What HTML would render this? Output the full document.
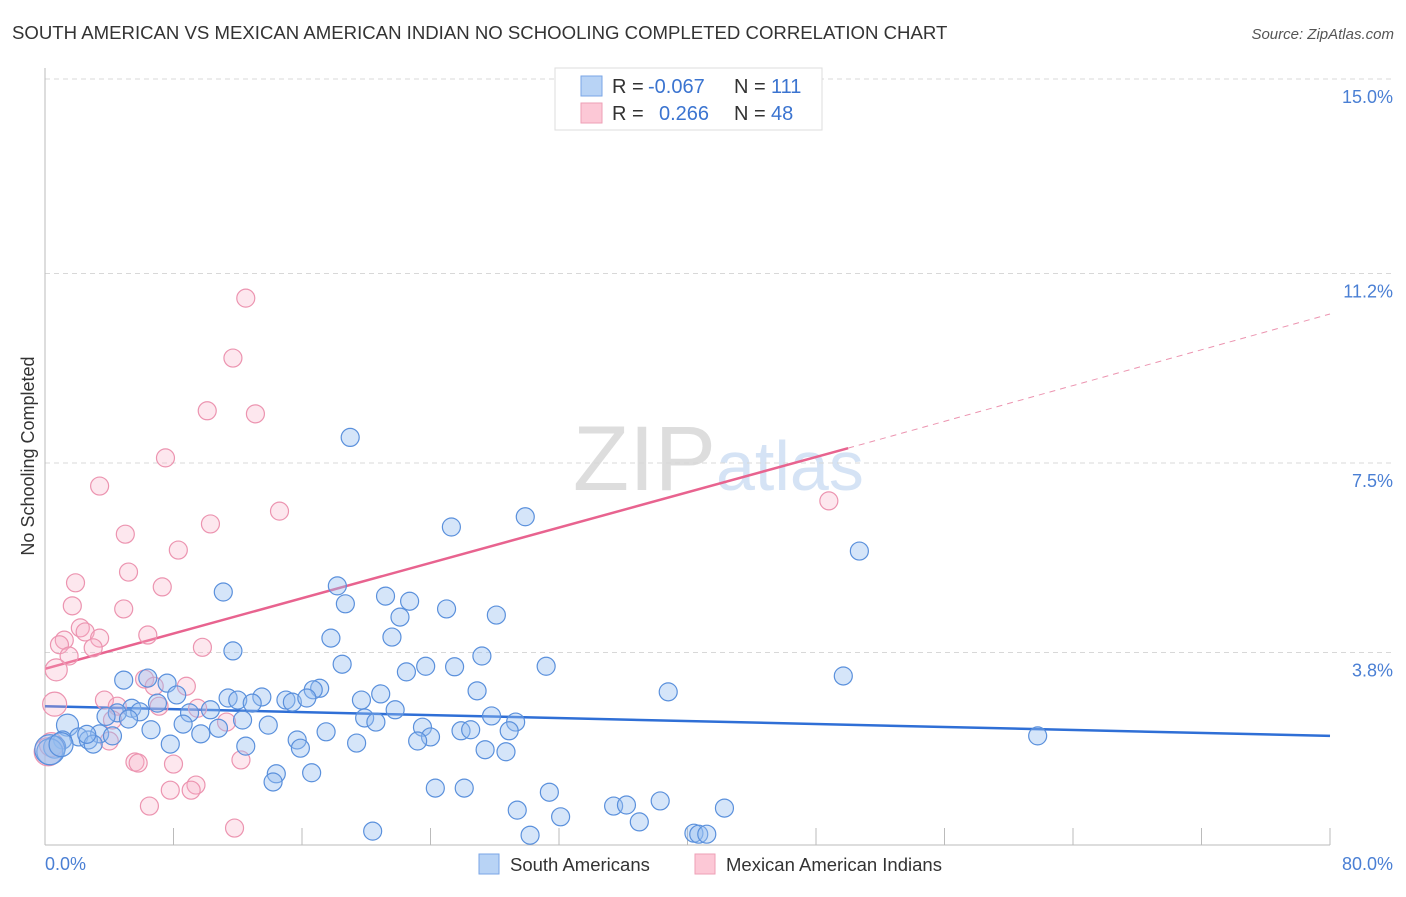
<!DOCTYPE html>
<html><head><meta charset="utf-8"><style>
body{margin:0;background:#fff;font-family:"Liberation Sans",sans-serif;}
svg text{font-family:"Liberation Sans",sans-serif;}
</style></head><body>
<svg id="chart" width="1406" height="892">
<text x="12" y="39" font-size="18.6" fill="#333">SOUTH AMERICAN VS MEXICAN AMERICAN INDIAN NO SCHOOLING COMPLETED CORRELATION CHART</text>
<text x="1394" y="39" font-size="15" fill="#555" font-style="italic" text-anchor="end">Source: ZipAtlas.com</text>
<text x="716" y="490" font-size="92" fill="#ddd" text-anchor="end" font-family="Liberation Serif">ZIP</text>
<text x="716" y="490" font-size="70" fill="#d5e3f5">atlas</text>
<g id="grid"></g>
<g id="axes"></g>
<g id="lines"></g>
<g id="points"></g>
<text transform="translate(34,456) rotate(-90)" font-size="18" fill="#333" text-anchor="middle">No Schooling Completed</text>
<text x="45" y="870" font-size="18" fill="#4a7fd4">0.0%</text>
<text x="1393" y="870" font-size="18" fill="#4a7fd4" text-anchor="end">80.0%</text>
<g>
<rect x="555" y="68" width="267" height="62" fill="#fff" stroke="#ddd"/>
<rect x="581" y="76" width="21" height="20" fill="#b8d3f5" stroke="#7aa6e6"/>
<rect x="581" y="103" width="21" height="20" fill="#fcc8d6" stroke="#ee9fb6"/>
<text x="612" y="93" font-size="20" fill="#333">R = </text><text x="648" y="93" font-size="20" fill="#3b74d0">-0.067</text>
<text x="734" y="93" font-size="20" fill="#333">N = </text><text x="771" y="93" font-size="20" fill="#3b74d0">111</text>
<text x="612" y="120" font-size="20" fill="#333">R = </text><text x="659" y="120" font-size="20" fill="#3b74d0">0.266</text>
<text x="734" y="120" font-size="20" fill="#333">N = </text><text x="771" y="120" font-size="20" fill="#3b74d0">48</text>
</g>
<g>
<rect x="479" y="854" width="20" height="20" fill="#b8d3f5" stroke="#7aa6e6"/>
<text x="510" y="871" font-size="18.5" fill="#333">South Americans</text>
</g>
<g>
<rect x="695" y="854" width="20" height="20" fill="#fcc8d6" stroke="#ee9fb6"/>
<text x="726" y="871" font-size="18.5" fill="#333">Mexican American Indians</text>
</g>
</svg>
<script>
const yTicks=[3.8,7.5,11.2,15.0];
const yTickLabels=["3.8%","7.5%","11.2%","15.0%"];
const blueX=[19.0,25.3,29.9,50.7,11.1,18.2,18.7,21.2,22.7,25.0,28.1,22.1,17.8,21.6,11.7,27.2,18.5,23.7,25.5,31.2,22.5,49.7,4.9,7.6,6.4,17.1,16.7,26.9,38.8,8.2,11.4,12.0,13.5,15.0,15.4,16.3,12.9,19.7,20.9,7.0,5.4,4.5,5.9,9.0,10.3,21.8,27.8,19.9,20.6,29.3,1.4,12.3,13.9,8.6,23.5,6.6,10.8,17.5,25.9,26.5,28.9,24.0,61.8,2.1,3.4,4.2,9.7,1.1,2.7,15.7,23.2,19.4,3.0,7.8,12.5,15.9,27.4,28.7,0.6,0.3,14.4,16.6,14.2,24.3,26.1,31.4,38.3,35.4,36.2,29.4,42.3,32.1,37.0,20.4,30.2,40.4,40.7,41.2,0.3,1.0,5.2,3.8,2.6];
const blueY=[8.0,6.25,6.45,5.78,4.98,5.1,4.75,4.9,4.8,4.65,4.53,4.49,4.08,4.1,3.83,3.73,3.57,3.53,3.52,3.53,3.42,3.34,3.26,3.2,3.3,3.1,3.07,3.05,3.03,2.97,2.91,2.87,2.93,2.87,2.83,2.91,2.81,2.87,2.99,2.81,2.71,2.62,2.64,2.62,2.68,2.68,2.56,2.52,2.44,2.44,2.38,2.48,2.38,2.40,2.34,2.29,2.32,2.25,2.27,2.29,2.27,2.15,2.17,2.15,2.21,2.17,2.21,2.09,2.09,2.09,2.07,2.03,2.01,2.01,1.97,1.93,1.9,1.86,1.95,1.86,1.43,1.45,1.27,1.15,1.15,1.07,0.9,0.8,0.82,0.72,0.76,0.59,0.49,0.31,0.23,0.27,0.25,0.25,1.9,2.0,2.5,2.55,2.2];
const blueR=[9,9,9,9,9,9,9,9,9,9,9,9,9,9,9,9,9,9,9,9,9,9,9,9,9,9,9,9,9,9,9,9,9,9,9,9,9,9,9,9,9,9,9,9,9,9,9,9,9,9,11,9,9,9,9,9,9,9,9,9,9,9,9,9,9,9,9,9,9,9,9,9,9,9,9,9,9,9,11,13,9,9,9,9,9,9,9,9,9,9,9,9,9,9,9,9,9,9,15,12,9,9,9];
const pinkX=[12.5,11.7,10.1,13.1,7.5,3.4,14.6,10.3,5.0,8.3,5.2,1.9,7.3,1.7,4.9,2.2,2.5,6.4,1.2,3.4,3.0,0.9,1.5,9.8,0.7,6.2,6.8,8.8,3.7,0.6,4.5,7.1,9.5,11.3,4.2,4.0,12.2,5.6,5.8,8.0,9.4,7.8,9.1,6.5,11.8,48.8,0.2,0.4];
const pinkY=[10.72,9.55,8.52,8.46,7.6,7.05,6.56,6.31,6.11,5.8,5.37,5.16,5.08,4.71,4.65,4.28,4.2,4.14,4.04,4.08,3.89,3.95,3.73,3.9,3.46,3.28,3.14,3.14,2.87,2.79,2.75,2.75,2.71,2.44,2.48,2.07,1.70,1.66,1.64,1.62,1.21,1.11,1.11,0.8,0.37,6.76,1.86,2.0];
const pinkR=[9,9,9,9,9,9,9,9,9,9,9,9,9,9,9,9,9,9,9,9,9,9,9,9,11,9,9,9,9,12,9,9,9,9,9,9,9,9,9,9,9,9,9,9,9,9,14,12];
const blueTrendX=[0,80];const blueTrendY=[2.75,2.17];
const pinkTrendX=[0,50,80];const pinkTrendY=[3.48,7.79,10.41];
const xTicks=[8,16,24,32,40,48,56,64,72,80];
const NS='http://www.w3.org/2000/svg';
const sx=v=>45+v/80*1285, sy=v=>847-v*51.2;
function mk(tag,attrs,parent){const e=document.createElementNS(NS,tag);for(const k in attrs)e.setAttribute(k,attrs[k]);document.getElementById(parent).appendChild(e);return e;}
yTicks.forEach((t,i)=>{
 const l=mk('line',{x1:45,x2:1393,y1:sy(t),y2:sy(t),stroke:'#d8d8d8','stroke-dasharray':'5,4'},'grid');
 
 
 const tx=mk('text',{x:1393,y:sy(t)+24,'font-size':18,fill:'#4a7fd4','text-anchor':'end'},'grid');
 tx.textContent=yTickLabels[i];
 
 
});
let ax=mk('line',{x1:45,x2:45,y1:68,y2:845,stroke:'#bbb'},'axes');


ax=mk('line',{x1:45,x2:1330,y1:845,y2:845,stroke:'#bbb'},'axes');


xTicks.forEach(t=>{
 const l=mk('line',{x1:sx(t),x2:sx(t),y1:828,y2:845,stroke:'#bbb'},'axes');
 
 
});
function dot(x,y,r,fill,stroke,name){
 const c=mk('circle',{cx:sx(x),cy:sy(y),r:r,fill:fill,stroke:stroke,'stroke-width':1.2},'points');
 
 
}
pinkX.forEach((x,i)=>dot(x,pinkY[i],pinkR[i],'rgba(248,175,198,0.3)','#ec94b0','mexican-american-indian-point'));
blueX.forEach((x,i)=>dot(x,blueY[i],blueR[i],'rgba(150,190,240,0.4)','#5a90dc','south-american-point'));
let ln=mk('line',{x1:sx(blueTrendX[0]),y1:sy(blueTrendY[0]),x2:sx(blueTrendX[1]),y2:sy(blueTrendY[1]),stroke:'#2f6fd6','stroke-width':2.5},'lines');


ln=mk('line',{x1:sx(pinkTrendX[0]),y1:sy(pinkTrendY[0]),x2:sx(pinkTrendX[1]),y2:sy(pinkTrendY[1]),stroke:'#e8638f','stroke-width':2.5},'lines');


ln=mk('line',{x1:sx(pinkTrendX[1]),y1:sy(pinkTrendY[1]),x2:sx(pinkTrendX[2]),y2:sy(pinkTrendY[2]),stroke:'#ec94b0','stroke-width':1,'stroke-dasharray':'6,5'},'lines');


</script>
</body></html>
